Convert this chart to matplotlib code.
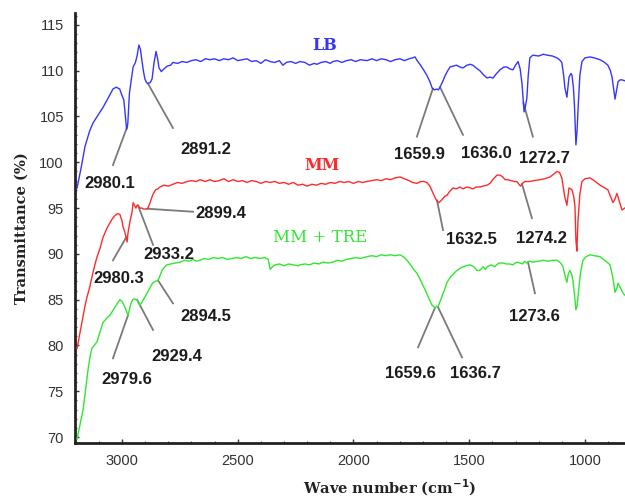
import numpy as np
import matplotlib
matplotlib.use("Agg")
import matplotlib.pyplot as plt
from matplotlib.ticker import MultipleLocator

# ---------------- data ----------------
lb_wn = [3194, 3175, 3160, 3140, 3125, 3100, 3082, 3060, 3039, 3025, 3010, 3000, 2992, 2987, 2980, 2975,
         2968, 2960, 2952, 2942, 2935, 2927, 2920, 2914, 2907, 2901, 2894, 2888, 2878, 2870, 2862, 2853,
         2846, 2840, 2830, 2823, 2805, 2790, 2780, 2760, 2740, 2720, 2700, 2680, 2660, 2640, 2620, 2600,
         2580, 2560, 2540, 2520, 2500, 2480, 2460, 2440, 2420, 2400, 2380, 2360, 2340, 2320, 2305, 2290,
         2270, 2250, 2231, 2210, 2190, 2170, 2158, 2140, 2120, 2100, 2089, 2070, 2050, 2030, 2010, 1990,
         1970, 1942, 1920, 1900, 1880, 1860, 1840, 1820, 1799, 1780, 1760, 1745, 1734, 1725, 1713, 1700,
         1683, 1670, 1660, 1650, 1640, 1633, 1626, 1615, 1605, 1595, 1583, 1570, 1555, 1540, 1527, 1510,
         1495, 1484, 1470, 1454, 1440, 1423, 1410, 1397, 1385, 1367, 1350, 1337, 1325, 1311, 1300, 1289,
         1280, 1272, 1266, 1263, 1258, 1251, 1245, 1238, 1225, 1200, 1180, 1164, 1140, 1121, 1110, 1100,
         1092, 1087, 1078, 1072, 1069, 1060, 1056, 1050, 1045, 1039, 1034, 1030, 1022, 1013, 1000, 978,
         960, 935, 915, 901, 890, 883, 875, 870, 864, 857, 848, 840, 828]
lb_t = [97.2, 99.6, 101.7, 103.4, 104.3, 105.3, 106.0, 107.0, 108.0, 108.2, 108.0, 107.3, 106.8, 105.5, 103.6, 104.2,
        107.5, 109.0, 110.4, 110.9, 111.6, 112.8, 112.3, 111.1, 109.9, 109.1, 108.7, 108.6, 108.7, 109.1, 110.8, 112.1,
        111.3, 110.3, 109.9, 110.1, 110.5, 110.6, 110.9, 110.8, 111.0, 110.9, 111.1, 111.2, 111.0, 111.3, 111.2, 111.3,
        111.1, 111.3, 111.2, 111.4, 111.1, 111.2, 111.3, 111.0, 111.1, 110.8, 111.2, 111.0, 110.9, 111.1, 110.6, 110.9,
        111.0, 110.8, 111.0, 110.9, 110.6, 110.8, 110.7, 110.9, 111.0, 110.8, 111.0, 111.1, 110.9, 111.1, 111.2, 111.0,
        111.2, 111.1, 111.3, 111.1, 111.3, 111.2, 111.0, 111.2, 111.3, 111.1, 111.3, 111.4, 111.5, 111.1, 110.7, 110.2,
        109.5, 108.8, 108.1, 107.9, 108.0, 107.9, 108.2, 108.8, 109.4, 109.9, 110.4, 110.5, 110.6, 110.4, 110.3, 110.6,
        110.7, 110.6, 110.3, 110.0, 109.6, 109.2, 109.3, 109.2, 109.6, 110.1, 110.4, 110.4, 110.2, 110.1, 110.6, 111.0,
        110.2, 108.6, 106.5, 105.5, 106.0, 107.0, 109.5, 111.4, 111.7, 111.6, 111.8, 111.7, 111.6, 111.4, 111.2, 110.9,
        109.5, 108.2, 107.1, 108.5, 109.3, 109.7, 109.5, 108.2, 106.0, 101.9, 103.5, 105.7, 109.5, 111.0, 111.4, 111.5,
        111.4, 111.2, 110.9, 110.6, 110.0, 109.3, 107.8, 106.9, 107.8, 108.8, 109.0, 109.0, 108.9]

mm_wn = [3194, 3175, 3160, 3151, 3140, 3125, 3110, 3095, 3082, 3065, 3052, 3040, 3030, 3018, 3009, 3000,
         2996, 2988, 2982, 2978, 2974, 2965, 2957, 2952, 2946, 2940, 2935, 2931, 2922, 2914, 2907, 2901,
         2894, 2888, 2880, 2872, 2866, 2855, 2845, 2836, 2820, 2800, 2780, 2760, 2740, 2719, 2700, 2680,
         2663, 2640, 2620, 2600, 2580, 2560, 2540, 2520, 2500, 2480, 2460, 2440, 2420, 2400, 2380, 2360,
         2340, 2320, 2300, 2280, 2260, 2240, 2220, 2200, 2180, 2160, 2140, 2120, 2100, 2080, 2060, 2040,
         2020, 2000, 1980, 1960, 1942, 1920, 1900, 1880, 1860, 1840, 1820, 1799, 1780, 1760, 1745, 1726,
         1710, 1695, 1683, 1670, 1656, 1645, 1632, 1626, 1615, 1605, 1596, 1585, 1570, 1555, 1540, 1527,
         1510, 1495, 1484, 1470, 1455, 1440, 1423, 1410, 1395, 1380, 1367, 1355, 1345, 1333, 1320, 1305,
         1294, 1285, 1278, 1270, 1260, 1251, 1240, 1220, 1194, 1175, 1151, 1135, 1121, 1110, 1100, 1092,
         1087, 1078, 1072, 1069, 1062, 1056, 1048, 1043, 1039, 1035, 1030, 1022, 1013, 1000, 978, 960,
         935, 915, 901, 890, 879, 870, 862, 852, 840, 828]
mm_t = [79.7, 82.3, 84.3, 85.3, 86.3, 88.0, 89.5, 90.6, 91.8, 92.8, 93.4, 93.9, 94.2, 94.4, 94.3, 93.6,
        93.0, 92.4, 91.8, 91.3, 92.3, 93.6, 94.5, 95.6, 95.3, 95.0, 95.3, 95.3, 95.0, 95.0, 94.9, 94.9,
        94.9, 95.0, 95.5, 96.1, 96.5, 97.0, 97.1, 97.3, 97.5, 97.4, 97.6, 97.8, 97.7, 97.9, 98.0, 97.9,
        98.1, 97.9, 98.1, 97.9, 98.0, 98.2, 97.9, 98.1, 97.9, 98.0, 97.8, 98.0, 97.9, 97.7, 97.9, 97.8,
        97.9, 97.7, 97.8, 97.6, 97.8, 97.5, 97.6, 97.4, 97.6, 97.5, 97.7, 97.6, 97.8, 97.7, 97.9, 97.8,
        97.9, 97.7, 97.9, 97.8, 97.9, 98.0, 98.1, 98.0, 98.2, 98.1, 98.3, 98.4, 98.2, 98.0, 97.8, 97.7,
        97.9, 97.9, 97.8, 97.4, 96.6, 96.0, 95.6, 95.7, 96.0, 96.3, 96.4, 96.8, 97.2, 97.1, 97.3, 97.1,
        97.3, 97.2, 97.1, 97.3, 97.3, 97.4, 97.5, 97.7, 98.2, 98.6, 98.6, 98.4, 98.1, 98.1, 98.0, 97.9,
        97.9, 97.6, 97.4, 97.7, 97.9, 97.9, 97.9, 98.0, 98.1, 98.2, 98.4, 98.7, 99.0, 98.9, 98.3, 97.0,
        96.2, 95.3, 96.6, 97.2, 97.1, 97.0, 96.2, 95.1, 91.5, 90.3, 93.7, 96.5, 97.9, 98.2, 98.3, 98.0,
        97.5, 97.2, 97.0, 96.3, 95.6, 96.0, 96.6, 95.8, 94.8, 95.0]

tre_wn = [3194, 3180, 3168, 3157, 3147, 3138, 3130, 3120, 3108, 3095, 3082, 3065, 3052, 3040, 3030, 3020,
          3009, 3000, 2991, 2982, 2974, 2968, 2961, 2954, 2948, 2940, 2935, 2929, 2922, 2912, 2901, 2890,
          2879, 2868, 2857, 2844, 2835, 2827, 2815, 2806, 2790, 2770, 2749, 2730, 2710, 2693, 2680, 2663,
          2645, 2625, 2605, 2585, 2565, 2545, 2525, 2505, 2485, 2465, 2445, 2425, 2405, 2385, 2368, 2360,
          2350, 2339, 2320, 2300, 2280, 2260, 2240, 2231, 2210, 2190, 2170, 2150, 2130, 2110, 2089, 2070,
          2050, 2030, 2010, 1990, 1970, 1942, 1920, 1900, 1880, 1860, 1840, 1820, 1799, 1785, 1769, 1750,
          1740, 1726, 1710, 1691, 1675, 1661, 1655, 1648, 1640, 1635, 1626, 1618, 1605, 1596, 1580, 1565,
          1553, 1535, 1515, 1497, 1480, 1467, 1454, 1440, 1430, 1423, 1405, 1390, 1372, 1354, 1340, 1325,
          1311, 1295, 1280, 1270, 1260, 1251, 1240, 1225, 1200, 1180, 1160, 1140, 1121, 1105, 1095, 1085,
          1078, 1072, 1065, 1058, 1052, 1045, 1039, 1034, 1030, 1020, 1009, 995, 978, 960, 935, 915,
          900, 892, 880, 870, 862, 857, 845, 835, 828]
tre_t = [69.8, 71.5, 73.0, 75.2, 77.3, 78.8, 79.7, 80.0, 80.4, 81.5, 82.5, 83.0, 83.3, 83.8, 84.2, 84.6,
         85.0, 84.8, 84.4, 83.8, 83.3, 83.9, 84.6, 85.0, 85.1, 85.0, 85.0, 84.7, 84.4, 84.8, 85.3, 85.8,
         86.3, 86.8, 87.0, 87.1, 87.7, 88.2, 88.6, 88.8, 88.9, 89.0, 89.1, 89.3, 89.2, 89.4, 89.2, 89.3,
         89.5, 89.4, 89.6, 89.5, 89.6, 89.4, 89.5, 89.6, 89.5, 89.7, 89.5, 89.6, 89.5, 89.6, 89.4, 88.3,
         88.6, 88.8, 88.9, 88.7, 88.9, 88.8, 88.7, 88.8, 88.9, 88.8, 89.0, 88.9, 89.1, 89.0, 89.1, 89.3,
         89.2, 89.4, 89.5, 89.6, 89.5, 89.7, 89.8, 89.7, 89.9, 89.8, 89.9, 89.8, 89.9, 89.7, 89.3, 88.7,
         88.3, 87.9, 87.1, 86.1, 85.2, 84.4, 84.3, 84.1, 84.3, 84.2, 84.8, 85.3, 86.2, 86.9, 87.5, 87.9,
         88.2, 88.5, 88.7, 88.8, 88.6, 88.2, 88.2, 88.6, 88.3, 88.6, 88.8, 88.6, 89.0, 89.0, 88.9, 88.9,
         88.8, 89.1, 89.0, 88.9, 89.2, 89.0, 89.2, 89.1, 89.2, 89.3, 89.2, 89.3, 89.3, 89.0, 88.6, 87.5,
         86.9, 87.8, 88.2, 87.8, 87.1, 85.5, 83.9, 84.3, 85.3, 87.8, 89.3, 89.7, 89.9, 89.8, 89.7, 89.3,
         89.0, 88.8, 87.5, 85.8, 86.3, 86.8, 86.2, 85.7, 85.5]

series_names = ["LB", "MM", "MM + TRE"]
series_colors = ["#3535ff", "#ff2b2b", "#2fe82f"]

# peak annotations: label, series index, peak wn, leader end (wn, T), text centre (wn, T)
ann_labels = ["2980.1", "2891.2", "1659.9", "1636.0", "1272.7",
              "2899.4", "2933.2", "2980.3", "1632.5", "1274.2",
              "2894.5", "2929.4", "2979.6", "1659.6", "1636.7", "1273.6"]
ann_series = [0, 0, 0, 0, 0, 1, 1, 1, 1, 1, 2, 2, 2, 2, 2, 2]
ann_peak = [2978, 2888, 1657, 1626, 1266,
            2892, 2931, 2982, 1639, 1272,
            2844, 2935, 2974, 1648, 1635, 1246]
ann_end = [(3039, 99.7), (2780, 103.75), (1726, 102.8), (1527, 103.0), (1225, 102.8),
           (2693, 94.6), (2866, 91.0), (3039, 89.3), (1613, 92.6), (1229, 93.9),
           (2780, 84.6), (2866, 81.7), (3039, 78.6), (1721, 79.8), (1531, 78.7), (1216, 85.7)]
ann_text = [(3052, 97.7), (2637, 101.45), (1713, 100.85), (1428, 100.95), (1173, 100.45),
            (2685, 94.4), (2797, 89.95), (3013, 87.35), (1492, 91.55), (1186, 91.7),
            (2637, 83.15), (2762, 78.85), (2978, 76.25), (1756, 76.95), (1471, 76.95), (1220, 83.15)]

name_pos = [(2123, 112.8), (2136, 99.7), (2145, 91.8)]

y_ticks = [70, 75, 80, 85, 90, 95, 100, 105, 110, 115]
x_ticks = [3000, 2500, 2000, 1500, 1000]

# ---------------- figure ----------------
fig = plt.figure(figsize=(6.25, 4.98), dpi=100)
ax = fig.add_axes([0.12, 0.1104, 0.88, 0.8635])

all_wn = [lb_wn, mm_wn, tre_wn]
all_t = [lb_t, mm_t, tre_t]
for wn, t, c in zip(all_wn, all_t, series_colors):
    ax.plot(wn, t, color=c, lw=1.0, solid_joinstyle="round", zorder=3)

for lab, si, pk, end, txt in zip(ann_labels, ann_series, ann_peak, ann_end, ann_text):
    wn = np.array(all_wn[si])[::-1]
    t = np.array(all_t[si])[::-1]
    y0 = np.interp(pk, wn, t)
    ax.plot([pk, end[0]], [y0, end[1]], color="#7a7a7a", lw=1.3, zorder=2)
    ha = "left" if lab == "2899.4" else "center"
    ax.text(txt[0], txt[1], lab, ha=ha, va="center", fontsize=12, fontweight="bold",
            family="Liberation Sans", color="#1c1c1c", zorder=4)

weights = ["bold", "bold", "normal"]
sizes = [11.5, 11.5, 12]
for name, pos, c, w, s in zip(series_names, name_pos, series_colors, weights, sizes):
    ax.text(pos[0], pos[1], name, ha="center", va="center", fontsize=s, fontweight=w,
            family="DejaVu Serif", color=c)

ax.set_xlim(3203, 827)
ax.set_ylim(69.35, 116.3)
ax.set_xticks(x_ticks)
ax.set_yticks(y_ticks)
ax.xaxis.set_minor_locator(MultipleLocator(100))
ax.yaxis.set_minor_locator(MultipleLocator(1))
ax.tick_params(which="major", direction="in", length=3, width=1, colors="#333333",
               labelsize=10.5, pad=8)
ax.tick_params(which="minor", direction="in", length=1.5, width=0.8, colors="#555555")
for lbl in ax.get_xticklabels() + ax.get_yticklabels():
    lbl.set_family("Liberation Sans")
    lbl.set_color("#333333")

for s in ["top", "right"]:
    ax.spines[s].set_visible(False)
for s in ["left", "bottom"]:
    ax.spines[s].set_linewidth(2.0)
    ax.spines[s].set_color("#222222")

fig.text(22 / 625, 1 - 228 / 498, "Transmittance (%)", rotation=90, ha="center", va="center",
         fontsize=10.5, fontweight="bold", family="DejaVu Serif", color="#222222")
fig.text(390 / 625, 1 - 488 / 498, r"Wave number (cm$^{\mathbf{-1}}$)", ha="center", va="center",
         fontsize=10.5, fontweight="bold", family="DejaVu Serif", color="#222222")

fig.savefig("out.png", dpi=100)
